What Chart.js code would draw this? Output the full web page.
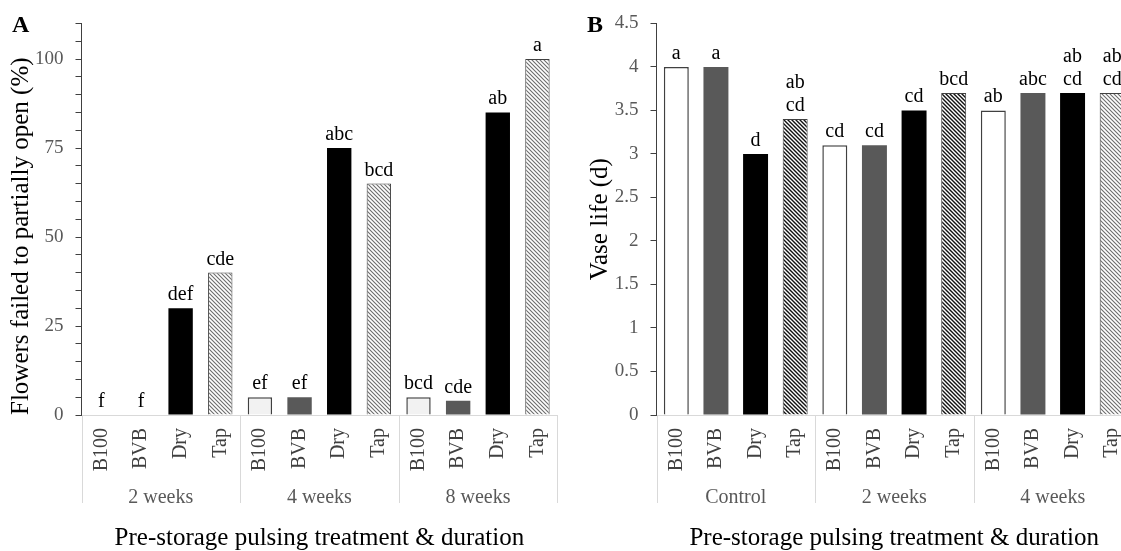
<!DOCTYPE html>
<html><head><meta charset="utf-8">
<script src="https://cdn.jsdelivr.net/npm/chart.js@4.4.1/dist/chart.umd.min.js"></script>
<style>
html,body{margin:0;padding:0;background:#fff;width:1121px;height:551px;overflow:hidden;}
#wrapA{position:absolute;left:0;top:0;width:575px;height:551px;}
#wrapB{position:absolute;left:560px;top:0;width:600px;height:551px;}
.panel{position:absolute;font-family:'Liberation Serif','Times New Roman',serif;font-weight:bold;font-size:24px;line-height:24px;color:#000;z-index:5;}
</style></head><body>
<div id="wrapA"><canvas id="cA" width="575" height="551"></canvas></div>
<div id="wrapB"><canvas id="cB" width="600" height="551"></canvas></div>
<div class="panel" style="left:12px;top:12px">A</div>
<div class="panel" style="left:587px;top:12px">B</div>
<script>
// ---- data ----
const treatments = ['B100', 'BVB', 'Dry', 'Tap'];
const durationsA = ['2 weeks', '4 weeks', '8 weeks'];
const failedPct = [0, 0, 30, 40, 5, 5, 75, 65, 5, 4, 85, 100];
const lettersA = ['f', 'f', 'def', 'cde', 'ef', 'ef', 'abc', 'bcd', 'bcd', 'cde', 'ab', 'a'];
const yLabelsA = [0, 25, 50, 75, 100];
const durationsB = ['Control', '2 weeks', '4 weeks'];
const vaseLife = [4, 4, 3, 3.4, 3.1, 3.1, 3.5, 3.7, 3.5, 3.7, 3.7, 3.7];
const lettersB = ['a', 'a', 'd', 'ab\ncd', 'cd', 'cd', 'cd', 'bcd', 'ab', 'abc', 'ab\ncd', 'ab\ncd'];
const xTitle = 'Pre-storage pulsing treatment & duration';

const FONT = "'Liberation Serif', 'Times New Roman', serif";

function hatch(color, lw) {
  const c = document.createElement('canvas');
  c.width = 4; c.height = 4;
  const g = c.getContext('2d');
  g.fillStyle = '#fff'; g.fillRect(0, 0, 4, 4);
  g.strokeStyle = color; g.lineWidth = lw;
  g.beginPath();
  g.moveTo(-1, -1); g.lineTo(5, 5);
  g.moveTo(-1, 3); g.lineTo(1, 5);
  g.moveTo(3, -1); g.lineTo(5, 1);
  g.stroke();
  return g.createPattern(c, 'repeat');
}

function groupPlugin(groups, letters) {
  return {
    id: 'groupLabels',
    afterDatasetsDraw(chart) {
      const ctx = chart.ctx;
      const meta = chart.getDatasetMeta(0);
      ctx.save();
      ctx.font = '20px ' + FONT;
      ctx.fillStyle = '#000';
      ctx.textAlign = 'center';
      ctx.textBaseline = 'alphabetic';
      meta.data.forEach((bar, i) => {
        const lines = letters[i].split('\n').reverse();
        lines.forEach((t, k) => ctx.fillText(t, bar.x, bar.y - 8 - k * 23));
      });
      ctx.restore();
    },
    afterDraw(chart) {
      const x = chart.scales.x;
      const ctx = chart.ctx;
      const n = treatments.length;
      const w = x.getPixelForValue(1) - x.getPixelForValue(0);
      ctx.save();
      ctx.strokeStyle = '#d9d9d9';
      ctx.lineWidth = 1;
      for (let g = 0; g <= groups.length; g++) {
        const px = Math.round(x.getPixelForValue(g * n) - w / 2) + 0.5;
        ctx.beginPath();
        ctx.moveTo(px, x.top);
        ctx.lineTo(px, x.top + 88);
        ctx.stroke();
      }
      ctx.font = '20px ' + FONT;
      ctx.fillStyle = '#595959';
      ctx.textAlign = 'center';
      ctx.textBaseline = 'alphabetic';
      groups.forEach((name, g) => {
        const cx = (x.getPixelForValue(g * n) + x.getPixelForValue(g * n + n - 1)) / 2;
        ctx.fillText(name, cx, x.top + 88);
      });
      ctx.restore();
    }
  };
}

function makeChart(id, groups, values, letters, colors, yOpts, yWidth, padRight, barPct) {
  const labels = groups.flatMap(() => treatments);
  return new Chart(document.getElementById(id), {
    type: 'bar',
    data: {
      labels,
      datasets: [{
        data: values,
        backgroundColor: colors.fill,
        borderColor: colors.border,
        borderWidth: colors.width,
        barPercentage: barPct,
        categoryPercentage: 1
      }]
    },
    options: {
      responsive: false,
      animation: false,
      layout: { padding: { top: 21, left: 0, right: padRight, bottom: 0 } },
      plugins: { legend: { display: false }, tooltip: { enabled: false } },
      scales: {
        x: {
          grid: { display: false, drawTicks: false },
          border: { display: true, color: '#d9d9d9', width: 1 },
          ticks: { autoSkip: false, maxRotation: 90, minRotation: 90, padding: 13, color: '#404040', font: { family: FONT, size: 20 } },
          title: { display: true, text: xTitle, color: '#000', font: { family: FONT, size: 25, lineHeight: 1 }, padding: 0 },
          afterFit(s) { s.height = 136; }
        },
        y: Object.assign({
          grid: { drawOnChartArea: false, drawTicks: true, tickLength: 6, color: '#404040' },
          border: { display: true, color: '#404040', width: 1 },
          afterFit(s) { s.width = yWidth; }
        }, yOpts)
      }
    },
    plugins: [groupPlugin(groups, letters)]
  });
}

const lightHatch = hatch('#6e6e6e', 1.1);
const darkHatch = hatch('#111', 1.4);

const colorsA = {
  fill: durationsA.flatMap(() => ['#f2f2f2', '#595959', '#000000', lightHatch]),
  border: durationsA.flatMap(() => ['#404040', '#595959', '#000000', '#404040']),
  width: durationsA.flatMap(() => [1.5, 0, 0, 1])
};
const colorsB = {
  fill: ['#ffffff', '#595959', '#000000', darkHatch, '#ffffff', '#595959', '#000000', darkHatch, '#ffffff', '#595959', '#000000', lightHatch],
  border: durationsB.flatMap(() => ['#404040', '#595959', '#000000', '#404040']),
  width: durationsB.flatMap(() => [1.5, 0, 0, 1])
};

makeChart('cA', durationsA, failedPct, lettersA, colorsA, {
  min: 0, max: 110,
  ticks: { stepSize: 5, autoSkip: false, callback: v => yLabelsA.includes(v) ? String(v) : '', color: '#595959', font: { family: FONT, size: 19 }, padding: 12 },
  title: { display: true, text: 'Flowers failed to partially open (%)', align: 'start', color: '#000', font: { family: FONT, size: 25, lineHeight: 1 }, padding: { top: 8.5, bottom: 0 } }
}, 81.5, 13.5, 0.615);

makeChart('cB', durationsB, vaseLife, lettersB, colorsB, {
  min: 0, max: 4.5,
  ticks: { stepSize: 0.5, autoSkip: false, callback: v => String(Math.round(v * 10) / 10), color: '#595959', font: { family: FONT, size: 19 }, padding: 12 },
  title: { display: true, text: 'Vase life (d)', color: '#000', font: { family: FONT, size: 25, lineHeight: 1 }, padding: { top: 27.5, bottom: 0 } }
}, 96.5, 28, 0.63);
</script>
</body></html>
